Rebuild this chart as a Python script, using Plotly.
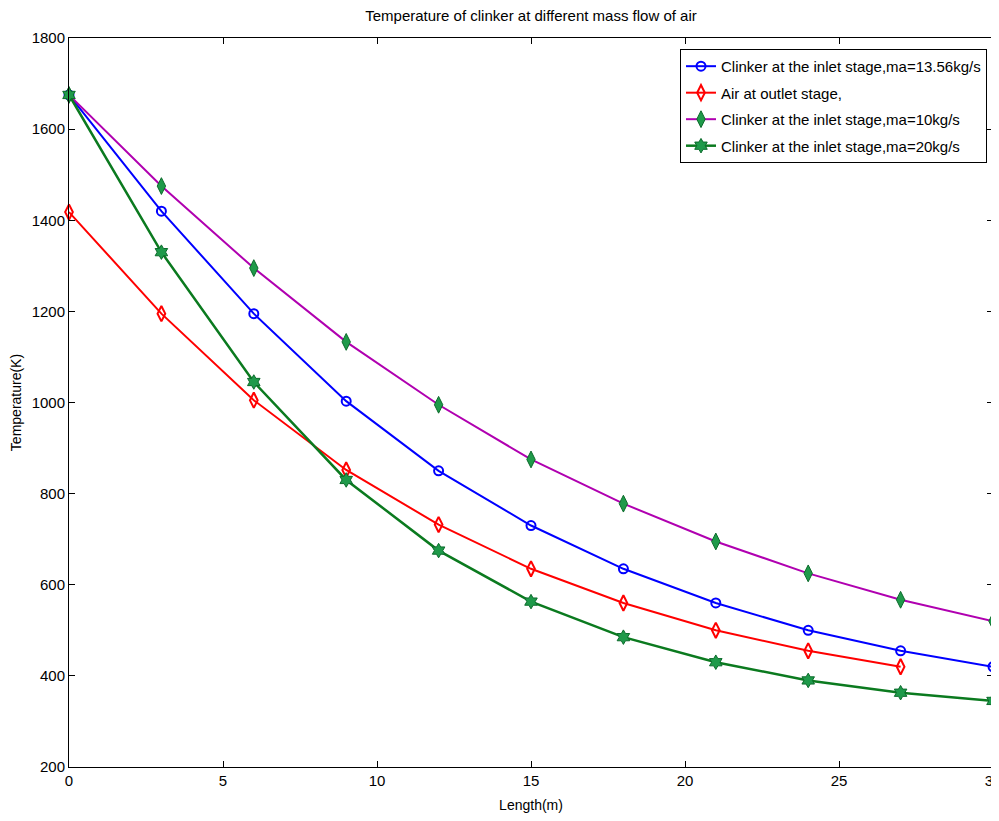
import plotly.graph_objects as go

length_m = [0, 3, 6, 9, 12, 15, 18, 21, 24, 27, 30]
clinker_1356 = [1675, 1420, 1195, 1003, 850, 730, 635, 560, 500, 455, 420]
air_outlet = [1418, 1195, 1005, 852, 732, 635, 560, 500, 455, 420]
clinker_10 = [1675, 1475, 1295, 1133, 995, 875, 778, 695, 625, 567, 520]
clinker_20 = [1675, 1330, 1045, 830, 675, 563, 485, 430, 390, 363, 345]

names = [
    "Clinker at the inlet stage,ma=13.56kg/s",
    "Air at outlet stage,",
    "Clinker at the inlet stage,ma=10kg/s",
    "Clinker at the inlet stage,ma=20kg/s",
]

FONT = "Liberation Sans Narrow, Arial Narrow, Liberation Sans, sans-serif"

fig = go.Figure()
fig.add_trace(go.Scatter(
    x=length_m, y=clinker_1356, name=names[0], mode="lines+markers", legendgroup="a",
    line=dict(color="#0000ff", width=2), cliponaxis=False,
    marker=dict(symbol="circle-open", size=9, color="#0000ff", line=dict(width=2)),
))
fig.add_trace(go.Scatter(
    x=length_m[:len(air_outlet)], y=air_outlet, name=names[1], mode="lines+markers", legendgroup="b",
    line=dict(color="#ff0000", width=2), cliponaxis=False,
    marker=dict(symbol="diamond-tall-open", size=11, color="#ff0000", line=dict(width=2)),
))
fig.add_trace(go.Scatter(
    x=length_m, y=clinker_10, name=names[2], mode="lines+markers", legendgroup="c",
    line=dict(color="#b000b0", width=2), cliponaxis=False,
    marker=dict(symbol="diamond-tall", size=12, color="#1f9a4a",
                line=dict(color="#0b6b2b", width=1)),
))
fig.add_trace(go.Scatter(
    x=length_m, y=clinker_20, name=names[3], mode="lines+markers", legendgroup="d",
    line=dict(color="#0b7a1f", width=2.5), cliponaxis=False,
    marker=dict(symbol="hexagram", size=11, color="#1f9a4a",
                line=dict(color="#0b6b2b", width=1)),
))

axis_common = dict(
    showline=True, linecolor="black", linewidth=1, mirror="ticks",
    ticks="inside", ticklen=6, tickcolor="black", showgrid=False, zeroline=False,
    automargin=False, ticklabeloverflow="allow",
    tickfont=dict(family=FONT, size=15, color="black"),
)

fig.update_layout(
    width=991, height=813,
    paper_bgcolor="white", plot_bgcolor="white",
    margin=dict(l=61, r=6, t=30, b=54),
    title=dict(text="Temperature of clinker at different mass flow of air",
               x=(531 - 8) / 991, xanchor="center", y=1 - 8 / 813, yanchor="middle",
               font=dict(family=FONT, size=15, color="black")),
    xaxis=dict(range=[0, 30], tickvals=[0, 5, 10, 15, 20, 25, 30],
               title=dict(text="Length(m)", standoff=12,
                          font=dict(family=FONT, size=14, color="black")),
               **axis_common),
    yaxis=dict(range=[200, 1800], tickvals=list(range(200, 1801, 200)),
               title=dict(text="Temperature(K)", standoff=7,
                          font=dict(family=FONT, size=14, color="black")),
               **axis_common),
    legend=dict(x=0.9935, y=0.985, xanchor="right", yanchor="top",
                bgcolor="white", bordercolor="black", borderwidth=1,
                font=dict(family=FONT, size=15, color="black"),
                tracegroupgap=4, itemwidth=30),
    showlegend=True,
)

fig.write_html("out.html")
